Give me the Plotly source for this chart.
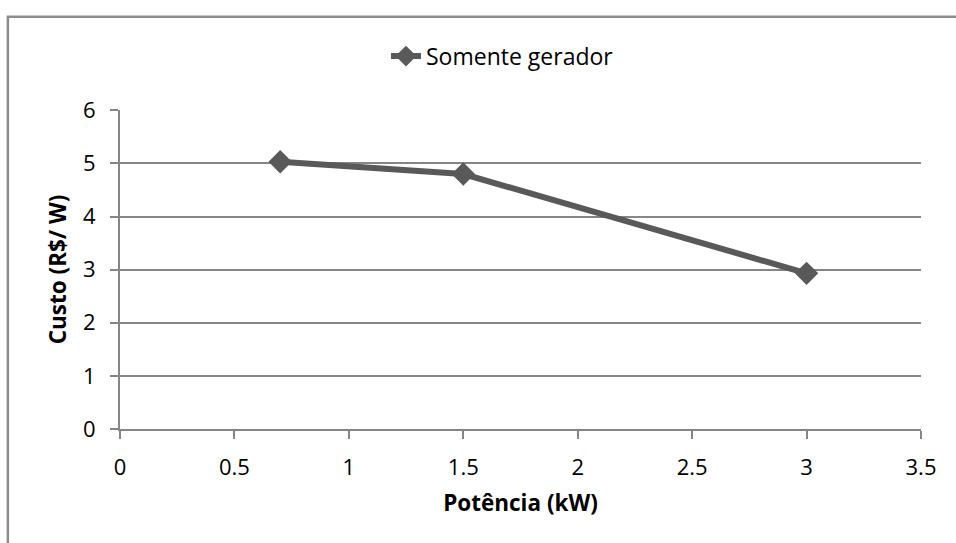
import plotly.graph_objects as go

# Potência (kW) vs custo (R$/W) — somente gerador
potencia_kw = [0.7, 1.5, 3.0]
custo_rs_w = [5.03, 4.80, 2.93]
serie_nome = "Somente gerador"

x_ticks = [0, 0.5, 1, 1.5, 2, 2.5, 3, 3.5]
x_tick_text = ["0", "0.5", "1", "1.5", "2", "2.5", "3", "3.5"]
y_ticks = [0, 1, 2, 3, 4, 5, 6]

line_color = "#595959"
grid_color = "#868686"
font_family = "Open Sans, Liberation Sans, sans-serif"

fig = go.Figure()
fig.add_trace(go.Scatter(
    x=potencia_kw,
    y=custo_rs_w,
    mode="lines+markers",
    name=serie_nome,
    line=dict(color=line_color, width=6),
    marker=dict(symbol="diamond", size=18, color=line_color),
))

fig.update_layout(
    width=956,
    height=543,
    margin=dict(l=120, r=35, t=110, b=114),
    paper_bgcolor="white",
    plot_bgcolor="white",
    font=dict(family=font_family, size=22, color="black"),
    showlegend=True,
    legend=dict(
        orientation="h",
        x=0.4775,
        xanchor="center",
        y=1.169,
        yanchor="middle",
        font=dict(size=23),
        bgcolor="rgba(0,0,0,0)",
    ),
    xaxis=dict(
        range=[0, 3.5],
        tickvals=x_ticks,
        ticktext=x_tick_text,
        showgrid=False,
        zeroline=False,
        showline=True,
        linecolor=grid_color,
        linewidth=2,
        ticks="outside",
        ticklen=8,
        tickwidth=2,
        tickcolor=grid_color,
        ticklabelstandoff=10,
        title=dict(text="<b>Potência (kW)</b>", font=dict(size=22.5), standoff=15),
    ),
    yaxis=dict(
        range=[0, 6.005],
        tickvals=y_ticks,
        showgrid=True,
        gridcolor=grid_color,
        gridwidth=2,
        zeroline=False,
        showline=True,
        linecolor=grid_color,
        linewidth=2,
        ticks="outside",
        ticklen=8,
        tickwidth=2,
        tickcolor=grid_color,
        ticklabelstandoff=10,
        title=dict(text="<b>Custo (R$/ W)</b>", font=dict(size=22.5), standoff=10),
    ),
    shapes=[
        dict(
            type="rect",
            xref="paper", yref="paper",
            x0=-0.14, x1=1.2, y0=-0.6, y1=1.292,
            line=dict(color="#8c8c8c", width=2.5),
            fillcolor="rgba(0,0,0,0)",
            layer="below",
        )
    ],
)

fig.write_html("out.html")
